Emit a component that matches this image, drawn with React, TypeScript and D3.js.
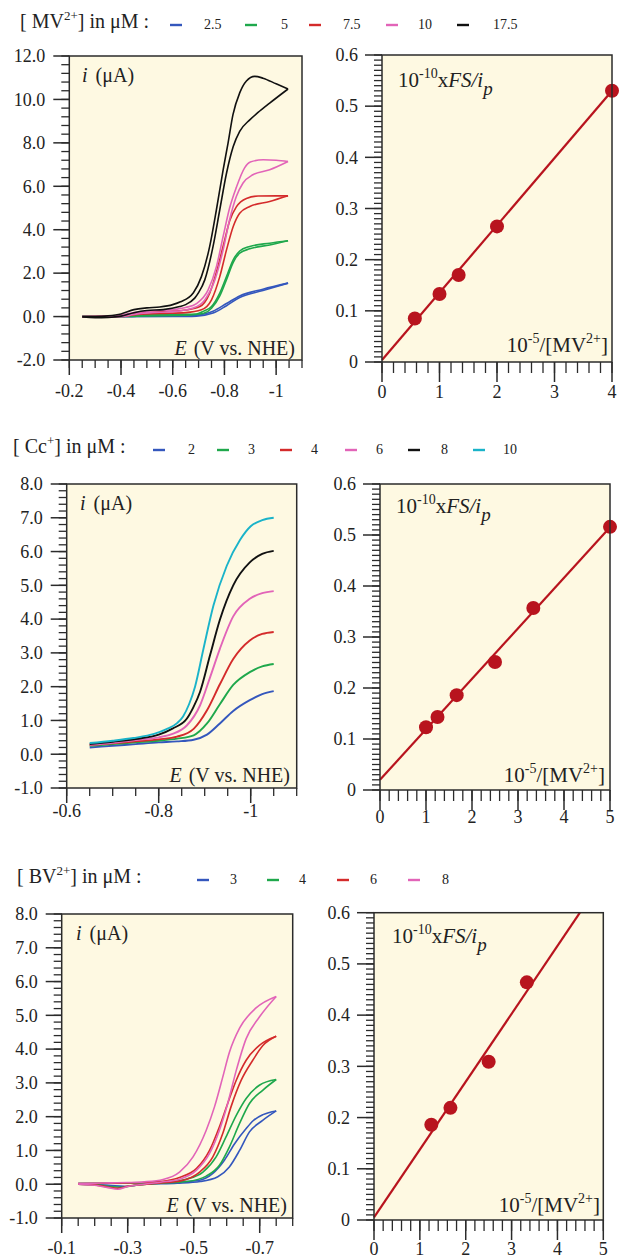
import React from 'react';
import * as d3 from 'd3';

type Pt = [number, number];

const FONT = '"Liberation Serif", "Times New Roman", serif';
const BG = '#fef9e2';
const AX = '#2b2b2b';

// ---------- legends ----------
const mvLabels = ['2.5', '5', '7.5', '10', '17.5'];
const mvColors = ['#3457bd', '#1fa84c', '#d42b2b', '#e264b8', '#111111'];
const ccLabels = ['2', '3', '4', '6', '8', '10'];
const ccColors = ['#3457bd', '#1fa84c', '#d42b2b', '#e264b8', '#111111', '#1ab3c9'];
const bvLabels = ['3', '4', '6', '8'];
const bvColors = ['#3457bd', '#1fa84c', '#d42b2b', '#e264b8'];

// ---------- panel 1: MV2+ CVs (E in V, i in uA) ----------
const mv25Fwd: Pt[] = [[-0.25, 0], [-0.4, 0.0], [-0.5, 0.03], [-0.6, 0.05], [-0.692, 0.06], [-0.72, 0.12], [-0.756, 0.25], [-0.808, 0.6], [-0.859, 0.95], [-0.949, 1.26], [-1.046, 1.54]];
const mv25Rev: Pt[] = [[-1.046, 1.54], [-0.949, 1.2], [-0.859, 0.88], [-0.808, 0.5], [-0.756, 0.16], [-0.692, 0.02], [-0.6, 0.0], [-0.4, -0.01], [-0.25, 0]];
const mv5Fwd: Pt[] = [[-0.25, 0], [-0.4, 0.02], [-0.5, 0.08], [-0.6, 0.1], [-0.65, 0.1], [-0.692, 0.12], [-0.72, 0.25], [-0.75, 0.46], [-0.782, 1.08], [-0.808, 1.84], [-0.834, 2.61], [-0.859, 3.02], [-0.898, 3.23], [-0.975, 3.38], [-1.046, 3.49]];
const mv5Rev: Pt[] = [[-1.046, 3.49], [-0.975, 3.3], [-0.898, 3.12], [-0.859, 2.92], [-0.834, 2.5], [-0.808, 1.7], [-0.782, 0.95], [-0.75, 0.38], [-0.72, 0.15], [-0.65, 0.06], [-0.5, 0.03], [-0.4, 0.0], [-0.25, 0]];
const mv75Fwd: Pt[] = [[-0.25, 0], [-0.35, 0.02], [-0.4, 0.05], [-0.45, 0.15], [-0.5, 0.2], [-0.55, 0.22], [-0.6, 0.25], [-0.65, 0.3], [-0.705, 0.46], [-0.743, 1.08], [-0.775, 2.3], [-0.801, 3.53], [-0.82, 4.4], [-0.846, 5.05], [-0.885, 5.44], [-0.93, 5.55], [-1.0, 5.56], [-1.046, 5.56]];
const mv75Rev: Pt[] = [[-1.046, 5.56], [-0.975, 5.3], [-0.898, 5.07], [-0.859, 4.76], [-0.834, 4.15], [-0.808, 3.07], [-0.782, 1.84], [-0.75, 0.77], [-0.711, 0.31], [-0.65, 0.18], [-0.55, 0.14], [-0.45, 0.08], [-0.4, 0.0], [-0.3, -0.02], [-0.25, -0.01]];
const mv10Fwd: Pt[] = [[-0.25, 0], [-0.35, 0.02], [-0.4, 0.06], [-0.45, 0.18], [-0.5, 0.25], [-0.55, 0.28], [-0.6, 0.32], [-0.65, 0.42], [-0.692, 0.6], [-0.737, 1.23], [-0.769, 2.3], [-0.795, 3.69], [-0.82, 5.0], [-0.846, 5.95], [-0.878, 6.85], [-0.9, 7.12], [-0.95, 7.22], [-1.0, 7.2], [-1.046, 7.14]];
const mv10Rev: Pt[] = [[-1.046, 7.14], [-0.975, 6.76], [-0.91, 6.53], [-0.872, 6.15], [-0.846, 5.53], [-0.82, 4.46], [-0.795, 3.07], [-0.763, 1.69], [-0.724, 0.77], [-0.679, 0.39], [-0.62, 0.25], [-0.55, 0.2], [-0.5, 0.17], [-0.45, 0.1], [-0.4, 0.0], [-0.3, -0.03], [-0.25, -0.01]];
const mv175Fwd: Pt[] = [[-0.25, 0], [-0.3, 0.0], [-0.35, 0.03], [-0.4, 0.12], [-0.45, 0.32], [-0.5, 0.4], [-0.55, 0.44], [-0.6, 0.55], [-0.63, 0.68], [-0.68, 1.1], [-0.711, 1.84], [-0.743, 3.23], [-0.769, 4.92], [-0.795, 6.76], [-0.814, 7.99], [-0.833, 9.3], [-0.859, 10.3], [-0.885, 10.85], [-0.917, 11.06], [-0.949, 10.98], [-1.0, 10.72], [-1.046, 10.48]];
const mv175Rev: Pt[] = [[-1.046, 10.48], [-0.975, 9.83], [-0.93, 9.4], [-0.898, 9.06], [-0.859, 8.53], [-0.834, 7.83], [-0.808, 6.6], [-0.782, 4.92], [-0.756, 3.23], [-0.724, 1.69], [-0.7, 1.1], [-0.685, 0.85], [-0.65, 0.55], [-0.627, 0.46], [-0.563, 0.32], [-0.5, 0.28], [-0.45, 0.18], [-0.4, 0.02], [-0.35, -0.04], [-0.3, -0.05], [-0.25, -0.02]];

// ---------- panel 3: Cc+ voltammograms ----------
const cc2: Pt[] = [[-0.65, 0.2], [-0.7, 0.25], [-0.75, 0.3], [-0.8, 0.35], [-0.84, 0.38], [-0.876, 0.43], [-0.905, 0.58], [-0.933, 0.91], [-0.962, 1.28], [-0.998, 1.6], [-1.025, 1.78], [-1.05, 1.87]];
const cc3: Pt[] = [[-0.65, 0.25], [-0.7, 0.3], [-0.75, 0.35], [-0.8, 0.4], [-0.84, 0.46], [-0.876, 0.56], [-0.905, 0.91], [-0.933, 1.48], [-0.962, 2.05], [-0.998, 2.43], [-1.025, 2.6], [-1.05, 2.67]];
const cc4: Pt[] = [[-0.65, 0.27], [-0.7, 0.32], [-0.75, 0.38], [-0.8, 0.44], [-0.84, 0.52], [-0.876, 0.75], [-0.905, 1.3], [-0.933, 2.07], [-0.962, 2.82], [-0.998, 3.37], [-1.025, 3.56], [-1.05, 3.62]];
const cc6: Pt[] = [[-0.65, 0.28], [-0.7, 0.34], [-0.75, 0.42], [-0.8, 0.5], [-0.83, 0.6], [-0.861, 0.85], [-0.89, 1.45], [-0.912, 2.29], [-0.933, 3.12], [-0.962, 4.08], [-0.998, 4.6], [-1.025, 4.77], [-1.05, 4.83]];
const cc8: Pt[] = [[-0.65, 0.3], [-0.7, 0.37], [-0.75, 0.45], [-0.8, 0.58], [-0.83, 0.76], [-0.861, 1.05], [-0.875, 1.38], [-0.89, 1.85], [-0.912, 2.95], [-0.933, 3.98], [-0.962, 5.0], [-0.998, 5.68], [-1.025, 5.93], [-1.05, 6.02]];
const cc10: Pt[] = [[-0.65, 0.33], [-0.7, 0.4], [-0.745, 0.48], [-0.79, 0.6], [-0.817, 0.74], [-0.84, 0.92], [-0.853, 1.12], [-0.866, 1.48], [-0.879, 2.0], [-0.897, 3.1], [-0.919, 4.4], [-0.948, 5.58], [-0.977, 6.35], [-1.0, 6.75], [-1.025, 6.93], [-1.05, 7.0]];

// ---------- panel 5: BV2+ CVs ----------
const bv3Up: Pt[] = [[-0.15, 0.02], [-0.3, 0.03], [-0.4, 0.05], [-0.46, 0.07], [-0.518, 0.12], [-0.558, 0.32], [-0.593, 0.71], [-0.624, 1.2], [-0.659, 1.65], [-0.68, 1.88], [-0.71, 2.06], [-0.75, 2.17]];
const bv3Low: Pt[] = [[-0.75, 2.17], [-0.709, 1.89], [-0.669, 1.55], [-0.639, 1.0], [-0.608, 0.51], [-0.573, 0.22], [-0.52, 0.08], [-0.45, 0.03], [-0.35, 0.0], [-0.29, -0.06], [-0.25, -0.04], [-0.2, -0.01], [-0.15, 0]];
const bv4Up: Pt[] = [[-0.15, 0.02], [-0.25, 0.03], [-0.35, 0.04], [-0.42, 0.07], [-0.477, 0.15], [-0.528, 0.36], [-0.568, 0.81], [-0.598, 1.4], [-0.629, 2.04], [-0.659, 2.54], [-0.699, 2.93], [-0.75, 3.1]];
const bv4Low: Pt[] = [[-0.75, 3.1], [-0.709, 2.78], [-0.669, 2.39], [-0.639, 1.8], [-0.608, 1.1], [-0.578, 0.56], [-0.538, 0.24], [-0.48, 0.08], [-0.4, 0.03], [-0.33, -0.02], [-0.28, -0.09], [-0.24, -0.06], [-0.2, -0.01], [-0.15, 0]];
const bv6Up: Pt[] = [[-0.15, 0.02], [-0.25, 0.03], [-0.35, 0.05], [-0.4, 0.08], [-0.457, 0.2], [-0.508, 0.46], [-0.548, 1.0], [-0.578, 1.7], [-0.603, 2.39], [-0.629, 3.08], [-0.659, 3.67], [-0.699, 4.11], [-0.75, 4.38]];
const bv6Low: Pt[] = [[-0.75, 4.38], [-0.709, 4.1], [-0.679, 3.67], [-0.644, 3.08], [-0.613, 2.29], [-0.588, 1.5], [-0.558, 0.81], [-0.518, 0.36], [-0.46, 0.1], [-0.4, 0.04], [-0.35, -0.01], [-0.3, -0.06], [-0.27, -0.12], [-0.24, -0.08], [-0.2, -0.02], [-0.15, 0]];
const bv8Up: Pt[] = [[-0.15, 0.02], [-0.2, 0.03], [-0.25, 0.04], [-0.3, 0.05], [-0.35, 0.07], [-0.407, 0.14], [-0.457, 0.36], [-0.498, 0.81], [-0.538, 1.6], [-0.563, 2.29], [-0.588, 3.17], [-0.608, 3.9], [-0.639, 4.62], [-0.689, 5.22], [-0.75, 5.56]];
const bv8Low: Pt[] = [[-0.75, 5.56], [-0.699, 4.95], [-0.659, 4.31], [-0.629, 3.37], [-0.603, 2.39], [-0.578, 1.6], [-0.548, 0.91], [-0.508, 0.41], [-0.457, 0.15], [-0.4, 0.06], [-0.35, 0.0], [-0.3, -0.07], [-0.27, -0.15], [-0.24, -0.1], [-0.2, -0.03], [-0.15, 0]];

// ---------- reciprocal plots ----------
const mvInvC = [0.571, 1.0, 1.333, 2.0, 4.0];
const mvRatio = [0.085, 0.133, 0.17, 0.265, 0.53];
const mvFit: Pt[] = [[0, 0.004], [4, 0.53]];
const ccInvC = [1.0, 1.25, 1.667, 2.5, 3.333, 5.0];
const ccRatio = [0.123, 0.143, 0.186, 0.251, 0.357, 0.516];
const ccFit: Pt[] = [[0, 0.02], [5, 0.515]];
const bvInvC = [1.25, 1.667, 2.5, 3.333];
const bvRatio = [0.186, 0.219, 0.309, 0.464];
const bvFit: Pt[] = [[0, 0.005], [4.49, 0.6]];

// ---------- tick labels ----------
const p1XTicks = [-0.2, -0.4, -0.6, -0.8, -1.0];
const p1XLabels = ['-0.2', '-0.4', '-0.6', '-0.8', '-1'];
const p1YTicks = [12, 10, 8, 6, 4, 2, 0, -2];
const p1YLabels = ['12.0', '10.0', '8.0', '6.0', '4.0', '2.0', '0.0', '-2.0'];
const p3XTicks = [-0.6, -0.8, -1.0];
const p3XLabels = ['-0.6', '-0.8', '-1'];
const p35YTicks = [8, 7, 6, 5, 4, 3, 2, 1, 0, -1];
const p35YLabels = ['8.0', '7.0', '6.0', '5.0', '4.0', '3.0', '2.0', '1.0', '0.0', '-1.0'];
const p5XTicks = [-0.1, -0.3, -0.5, -0.7];
const p5XLabels = ['-0.1', '-0.3', '-0.5', '-0.7'];
const rYTicks = [0.6, 0.5, 0.4, 0.3, 0.2, 0.1, 0];
const rYLabels = ['0.6', '0.5', '0.4', '0.3', '0.2', '0.1', '0'];
const r4XTicks = [0, 1, 2, 3, 4];
const r5XTicks = [0, 1, 2, 3, 4, 5];

type Box = { l: number; r: number; t: number; b: number };

function minorVals(a: number, b: number, step: number): number[] {
  const n = Math.round(Math.abs(b - a) / step);
  const dir = b >= a ? 1 : -1;
  const out: number[] = [];
  for (let k = 0; k <= n; k++) out.push(a + dir * k * step);
  return out;
}

function Axes(props: {
  box: Box; x: d3.ScaleLinear<number, number>; y: d3.ScaleLinear<number, number>;
  xTicks: number[]; xLabels: string[]; xMinor: number[]; yTicks: number[]; yLabels: string[]; yMinor: number[];
  xMajLen: number; xMinLen: number; yMajLen: number; yMinLen: number; xLabelY: number;
}) {
  const { box, x, y } = props;
  return (
    <g>
      {props.yMinor.map((v, k) => (
        <line key={'ym' + k} x1={box.l - props.yMinLen} x2={box.l} y1={y(v)} y2={y(v)} stroke={AX} strokeWidth={1.3} />
      ))}
      {props.yTicks.map((v, k) => (
        <line key={'yM' + k} x1={box.l - props.yMajLen} x2={box.l} y1={y(v)} y2={y(v)} stroke={AX} strokeWidth={1.5} />
      ))}
      {props.yTicks.map((v, k) => (
        <text key={'yl' + k} x={box.l - 24} y={y(v)} dy="0.35em" textAnchor="end" fontSize={18} fontFamily={FONT} fill="#222">
          {props.yLabels[k]}
        </text>
      ))}
      {props.xMinor.map((v, k) => (
        <line key={'xm' + k} x1={x(v)} x2={x(v)} y1={box.b} y2={box.b + props.xMinLen} stroke={AX} strokeWidth={1.3} />
      ))}
      {props.xTicks.map((v, k) => (
        <line key={'xM' + k} x1={x(v)} x2={x(v)} y1={box.b} y2={box.b + props.xMajLen} stroke={AX} strokeWidth={1.5} />
      ))}
      {props.xTicks.map((v, k) => (
        <text key={'xl' + k} x={x(v)} y={props.xLabelY} textAnchor="middle" fontSize={18} fontFamily={FONT} fill="#222">
          {props.xLabels[k]}
        </text>
      ))}
    </g>
  );
}

type Series = { color: string; branches: Pt[][] };

function CVPanel(props: {
  box: Box; xDom: [number, number]; yDom: [number, number];
  xTicks: number[]; xLabels: string[]; xStep: number;
  yTicks: number[]; yLabels: string[]; yStep: number;
  series: Series[]; iPos: [number, number]; ePos: [number, number]; xLabelY: number; width?: number;
}) {
  const { box } = props;
  const x = d3.scaleLinear().domain(props.xDom).range([box.l, box.r]);
  const y = d3.scaleLinear().domain(props.yDom).range([box.b, box.t]);
  const line = d3.line<Pt>().x((d) => x(d[0])).y((d) => y(d[1])).curve(d3.curveMonotoneX);
  const xMinor = minorVals(props.xDom[0], props.xDom[1], props.xStep);
  const yMinor = minorVals(props.yDom[0], props.yDom[1], props.yStep);
  const sorted = (b: Pt[]) => b.slice().sort((p, q) => x(p[0]) - x(q[0]));
  return (
    <g>
      <rect x={box.l} y={box.t} width={box.r - box.l} height={box.b - box.t} fill={BG} />
      {props.series.map((s, k) =>
        s.branches.map((b, j) => (
          <path key={k + '-' + j} d={line(sorted(b)) || ''} fill="none" stroke={s.color} strokeWidth={props.width || 1.6} strokeLinejoin="round" />
        ))
      )}
      <rect x={box.l} y={box.t} width={box.r - box.l} height={box.b - box.t} fill="none" stroke={AX} strokeWidth={1.5} />
      <Axes box={box} x={x} y={y} xTicks={props.xTicks} xLabels={props.xLabels} xMinor={xMinor}
        yTicks={props.yTicks} yLabels={props.yLabels} yMinor={yMinor}
        xMajLen={15} xMinLen={8} yMajLen={16} yMinLen={8} xLabelY={props.xLabelY} />
      <text x={props.iPos[0]} y={props.iPos[1]} fontSize={20} fontFamily={FONT} fill="#222">
        <tspan fontStyle="italic">i</tspan>
        <tspan dx={8}>(μA)</tspan>
      </text>
      <text x={props.ePos[0]} y={props.ePos[1]} fontSize={20} fontFamily={FONT} textAnchor="end" fill="#222">
        <tspan fontStyle="italic">E</tspan>
        <tspan dx={7}>(V vs. NHE)</tspan>
      </text>
    </g>
  );
}

function RecipPanel(props: {
  box: Box; xMax: number; xTicks: number[]; xs: number[]; ys: number[]; fit: Pt[];
  topPos: [number, number]; botPos: [number, number]; xLabelY: number;
}) {
  const { box } = props;
  const x = d3.scaleLinear().domain([0, props.xMax]).range([box.l, box.r]);
  const y = d3.scaleLinear().domain([0, 0.6]).range([box.b, box.t]);
  const line = d3.line<Pt>().x((d) => x(d[0])).y((d) => y(d[1]));
  const xMinor = minorVals(0, props.xMax, 0.2);
  const yMinor = minorVals(0, 0.6, 0.01);
  const red = '#b8141e';
  return (
    <g>
      <rect x={box.l} y={box.t} width={box.r - box.l} height={box.b - box.t} fill={BG} />
      <path d={line(props.fit) || ''} stroke={red} strokeWidth={2.2} fill="none" />
      {props.xs.map((v, k) => (
        <circle key={k} cx={x(v)} cy={y(props.ys[k])} r={7} fill={red} />
      ))}
      <rect x={box.l} y={box.t} width={box.r - box.l} height={box.b - box.t} fill="none" stroke={AX} strokeWidth={1.5} />
      <Axes box={box} x={x} y={y} xTicks={props.xTicks} xLabels={props.xTicks.map(String)} xMinor={xMinor}
        yTicks={rYTicks} yLabels={rYLabels} yMinor={yMinor}
        xMajLen={20} xMinLen={11} yMajLen={17} yMinLen={8} xLabelY={props.xLabelY} />
      <text x={props.topPos[0]} y={props.topPos[1]} fontSize={21} fontFamily={FONT} fill="#222">
        10<tspan dy={-9} fontSize={14}>-10</tspan>
        <tspan dy={9}>x</tspan>
        <tspan fontStyle="italic">FS/i</tspan>
        <tspan dy={8} fontSize={19} fontStyle="italic">p</tspan>
      </text>
      <text x={props.botPos[0]} y={props.botPos[1]} fontSize={21} fontFamily={FONT} textAnchor="end" fill="#222">
        10<tspan dy={-9} fontSize={14}>-5</tspan>
        <tspan dy={9}>/[MV</tspan>
        <tspan dy={-9} fontSize={14}>2+</tspan>
        <tspan dy={9}>]</tspan>
      </text>
    </g>
  );
}

function Legend(props: { x: number; y: number; name: string; sup: string; labels: string[]; colors: string[]; lineX: number[]; labelX: number[] }) {
  return (
    <g>
      <text x={props.x} y={props.y + 3} fontSize={20} fontFamily={FONT} fill="#222">
        [ {props.name}
        {props.sup ? <tspan dy={-8} fontSize={13}>{props.sup}</tspan> : null}
        <tspan dy={props.sup ? 8 : 0}>] in μM :</tspan>
      </text>
      {props.labels.map((lab, k) => (
        <g key={k}>
          <line x1={props.lineX[k]} x2={props.lineX[k] + 12} y1={props.y} y2={props.y} stroke={props.colors[k]} strokeWidth={2.4} />
          <text x={props.labelX[k]} y={props.y + 4} fontSize={14} fontFamily={FONT} fill="#222">{lab}</text>
        </g>
      ))}
    </g>
  );
}

export default function App() {
  const mvSeries: Series[] = [
    { color: mvColors[0], branches: [mv25Fwd, mv25Rev] },
    { color: mvColors[1], branches: [mv5Fwd, mv5Rev] },
    { color: mvColors[2], branches: [mv75Fwd, mv75Rev] },
    { color: mvColors[3], branches: [mv10Fwd, mv10Rev] },
    { color: mvColors[4], branches: [mv175Fwd, mv175Rev] },
  ];
  const ccSeries: Series[] = [cc2, cc3, cc4, cc6, cc8, cc10].map((c, k) => ({ color: ccColors[k], branches: [c] }));
  const bvSeries: Series[] = [
    { color: bvColors[0], branches: [bv3Up, bv3Low] },
    { color: bvColors[1], branches: [bv4Up, bv4Low] },
    { color: bvColors[2], branches: [bv6Up, bv6Low] },
    { color: bvColors[3], branches: [bv8Up, bv8Low] },
  ];
  return (
    <svg width={621} height={1260} style={{ position: 'absolute', left: 0, top: 0, background: '#fff' }}>
      <rect width={621} height={1260} fill="#fff" />
      <Legend x={20} y={25} name="MV" sup="2+" labels={mvLabels} colors={mvColors}
        lineX={[170, 245, 309, 386, 457]} labelX={[204, 281, 343, 418, 493]} />
      <CVPanel box={{ l: 69.3, r: 302, t: 56, b: 360 }} xDom={[-0.2, -1.1]} yDom={[-2, 12]}
        xTicks={p1XTicks} xLabels={p1XLabels} xStep={0.05} yTicks={p1YTicks} yLabels={p1YLabels} yStep={0.4}
        series={mvSeries} iPos={[82, 82]} ePos={[295, 355]} xLabelY={397} />
      <RecipPanel box={{ l: 382, r: 612, t: 55, b: 362 }} xMax={4} xTicks={r4XTicks} xs={mvInvC} ys={mvRatio} fit={mvFit}
        topPos={[398, 87]} botPos={[608, 352]} xLabelY={398} />

      <Legend x={13} y={450} name="Cc" sup="+" labels={ccLabels} colors={ccColors}
        lineX={[153, 217, 280, 345, 408, 473]} labelX={[188, 248, 311, 376, 441, 503]} />
      <CVPanel box={{ l: 66.7, r: 296.7, t: 484, b: 788 }} xDom={[-0.6, -1.1]} yDom={[-1, 8]}
        xTicks={p3XTicks} xLabels={p3XLabels} xStep={0.05} yTicks={p35YTicks} yLabels={p35YLabels} yStep={0.2}
        series={ccSeries} iPos={[80, 510]} ePos={[290, 782]} xLabelY={817} width={1.9} />
      <RecipPanel box={{ l: 380, r: 610, t: 484, b: 790 }} xMax={5} xTicks={r5XTicks} xs={ccInvC} ys={ccRatio} fit={ccFit}
        topPos={[396, 513]} botPos={[605, 782]} xLabelY={823} />

      <Legend x={17} y={880} name="BV" sup="2+" labels={bvLabels} colors={bvColors}
        lineX={[197, 267, 337, 408]} labelX={[230, 299, 370, 442]} />
      <CVPanel box={{ l: 61.7, r: 292.7, t: 914, b: 1218 }} xDom={[-0.1, -0.8]} yDom={[-1, 8]}
        xTicks={p5XTicks} xLabels={p5XLabels} xStep={0.05} yTicks={p35YTicks} yLabels={p35YLabels} yStep={0.2}
        series={bvSeries} iPos={[76, 940]} ePos={[287, 1212]} xLabelY={1254} />
      <RecipPanel box={{ l: 374, r: 603.3, t: 912.7, b: 1220 }} xMax={5} xTicks={r5XTicks} xs={bvInvC} ys={bvRatio} fit={bvFit}
        topPos={[392, 943]} botPos={[600, 1212]} xLabelY={1255} />
    </svg>
  );
}
